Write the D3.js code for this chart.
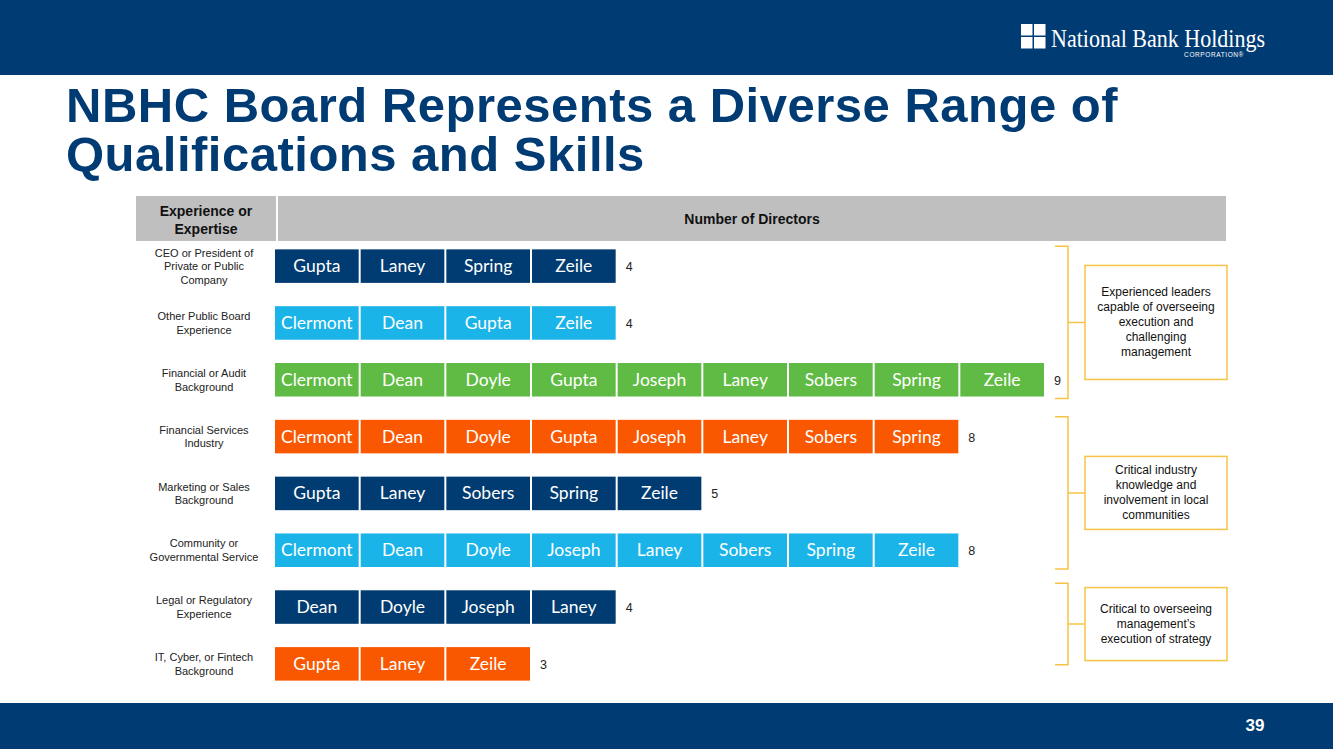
<!DOCTYPE html>
<html>
<head>
<meta charset="utf-8">
<script src="https://cdn.jsdelivr.net/npm/d3@7"></script>
<style>
  html, body { margin: 0; padding: 0; background: #fff; }
  svg { display: block; }
</style>
</head>
<body>
<svg id="chart"></svg>
<script>
// rows of the table, top to bottom
const categories = [
  ['CEO or President of', 'Private or Public', 'Company'],
  ['Other Public Board', 'Experience'],
  ['Financial or Audit', 'Background'],
  ['Financial Services', 'Industry'],
  ['Marketing or Sales', 'Background'],
  ['Community or', 'Governmental Service'],
  ['Legal or Regulatory', 'Experience'],
  ['IT, Cyber, or Fintech', 'Background']
];

const directors = [
  ['Gupta', 'Laney', 'Spring', 'Zeile'],
  ['Clermont', 'Dean', 'Gupta', 'Zeile'],
  ['Clermont', 'Dean', 'Doyle', 'Gupta', 'Joseph', 'Laney', 'Sobers', 'Spring', 'Zeile'],
  ['Clermont', 'Dean', 'Doyle', 'Gupta', 'Joseph', 'Laney', 'Sobers', 'Spring'],
  ['Gupta', 'Laney', 'Sobers', 'Spring', 'Zeile'],
  ['Clermont', 'Dean', 'Doyle', 'Joseph', 'Laney', 'Sobers', 'Spring', 'Zeile'],
  ['Dean', 'Doyle', 'Joseph', 'Laney'],
  ['Gupta', 'Laney', 'Zeile']
];

const counts = [4, 4, 9, 8, 5, 8, 4, 3];

// groups of rows (first index, last index) and their notes
const groups = [
  { from: 0, to: 2, note: ['Experienced leaders', 'capable of overseeing', 'execution and', 'challenging', 'management'] },
  { from: 3, to: 5, note: ['Critical industry', 'knowledge and', 'involvement in local', 'communities'] },
  { from: 6, to: 7, note: ['Critical to overseeing', 'management\u2019s', 'execution of strategy'] }
];

const W = 1333, H = 749;
const navy = '#003b73';
const barColors = ['#003b71', '#1ab4e9', '#5fbb43', '#fa5800', '#003b71', '#1ab4e9', '#003b71', '#fa5800'];
const gold = '#f6c445';

const svg = d3.select('#chart').attr('width', W).attr('height', H);

// top and bottom bands
svg.append('rect').attr('x', 0).attr('y', 0).attr('width', W).attr('height', 75).attr('fill', navy);
svg.append('rect').attr('x', 0).attr('y', 703).attr('width', W).attr('height', H - 703).attr('fill', navy);

// logo
const logo = svg.append('g').attr('transform', 'translate(1021,24)');
[[0, 0], [13, 0], [0, 13], [13, 13]].forEach(p => {
  logo.append('rect').attr('x', p[0]).attr('y', p[1]).attr('width', 11.5).attr('height', 11.5).attr('fill', '#fff');
});
svg.append('text').attr('x', 1051).attr('y', 47)
  .attr('font-family', 'Liberation Serif, serif').attr('font-size', 26)
  .attr('textLength', 214).attr('lengthAdjust', 'spacingAndGlyphs')
  .attr('fill', '#fff').text('National Bank Holdings');
svg.append('text').attr('x', 1244).attr('y', 57).attr('text-anchor', 'end')
  .attr('font-family', 'Liberation Sans, Arial, sans-serif').attr('font-size', 6.5)
  .attr('letter-spacing', 0.6).attr('fill', '#fff').text('CORPORATION\u00ae');

// page number
svg.append('text').attr('x', 1255).attr('y', 731).attr('text-anchor', 'middle')
  .attr('font-family', 'Liberation Sans, Arial, sans-serif').attr('font-weight', 'bold')
  .attr('font-size', 17).attr('fill', '#fff').text('39');

// title
const title = svg.append('text').attr('font-family', 'Liberation Sans, Arial, sans-serif')
  .attr('font-weight', 'bold').attr('font-size', 49).attr('letter-spacing', 0.5).attr('fill', navy);
title.append('tspan').attr('x', 66).attr('y', 122).text('NBHC Board Represents a Diverse Range of');
title.append('tspan').attr('x', 66).attr('y', 171).text('Qualifications and Skills');

// header row
const headY = 196, headH = 45;
svg.append('rect').attr('x', 136).attr('y', headY).attr('width', 140).attr('height', headH).attr('fill', '#bfbfbf');
svg.append('rect').attr('x', 278).attr('y', headY).attr('width', 948).attr('height', headH).attr('fill', '#bfbfbf');
const head1 = svg.append('text').attr('text-anchor', 'middle')
  .attr('font-family', 'Liberation Sans, Arial, sans-serif').attr('font-weight', 'bold')
  .attr('font-size', 14).attr('fill', '#111');
head1.append('tspan').attr('x', 206).attr('y', 216).text('Experience or');
head1.append('tspan').attr('x', 206).attr('y', 234).text('Expertise');
svg.append('text').attr('x', 752).attr('y', 224).attr('text-anchor', 'middle')
  .attr('font-family', 'Liberation Sans, Arial, sans-serif').attr('font-weight', 'bold')
  .attr('font-size', 14).attr('fill', '#111').text('Number of Directors');

// scales
const y = d3.scaleBand().domain(d3.range(categories.length)).range([238, 692]).paddingInner(0.41).paddingOuter(0.2);
const x = d3.scaleLinear().domain([0, 9]).range([275, 1046]);

// category labels
const lineH = 13.5;
categories.forEach((lines, i) => {
  const cy = y(i) + y.bandwidth() / 2;
  const t = svg.append('text').attr('text-anchor', 'middle')
    .attr('font-family', 'Liberation Sans, Arial, sans-serif').attr('font-size', 11).attr('fill', '#222');
  lines.forEach((s, j) => {
    t.append('tspan').attr('x', 204)
      .attr('y', cy + (j - (lines.length - 1) / 2) * lineH + 4).text(s);
  });
});

// bars
const rows = svg.append('g').selectAll('g').data(directors).join('g');
rows.each(function(names, i) {
  const g = d3.select(this);
  const cells = names.map((n, k) => ({ n: n, k: k }));
  g.selectAll('rect').data(cells).join('rect')
    .attr('x', d => x(d.k))
    .attr('y', y(i))
    .attr('width', x(1) - x(0) - 2)
    .attr('height', y.bandwidth())
    .attr('fill', barColors[i]);
  g.selectAll('text.name').data(cells).join('text')
    .attr('class', 'name')
    .attr('x', d => (x(d.k) + x(d.k + 1) - 2) / 2)
    .attr('y', y(i) + y.bandwidth() / 2 + 6)
    .attr('text-anchor', 'middle')
    .attr('font-family', 'Lato, sans-serif').attr('font-size', 17.5)
    .attr('fill', '#fff')
    .text(d => d.n);
  g.append('text')
    .attr('x', x(counts[i]) + 8)
    .attr('y', y(i) + y.bandwidth() / 2 + 5)
    .attr('font-family', 'Liberation Sans, Arial, sans-serif').attr('font-size', 12.5)
    .attr('fill', '#222')
    .text(counts[i]);
});

// brackets and notes
const brX = 1068, boxX = 1085, boxW = 142;
const boxHeights = [114, 73, 73];
const noteLine = 15;
groups.forEach((gr, gi) => {
  let top = y(gr.from) - 3;
  let bot = y(gr.to) + y.bandwidth() + 2;
  // the last bracket sits a little higher than its rows
  if (gi === groups.length - 1) {
    top = y(gr.from) - 7;
    bot = y(gr.to) + y.bandwidth() / 2 + 1;
  }
  const mid = (top + bot) / 2;
  svg.append('path')
    .attr('d', `M${brX - 13},${top}H${brX}V${bot}H${brX - 13}M${brX},${mid}H${boxX}`)
    .attr('fill', 'none').attr('stroke', gold).attr('stroke-width', 1.5);
  const boxH = boxHeights[gi];
  svg.append('rect').attr('x', boxX).attr('y', mid - boxH / 2)
    .attr('width', boxW).attr('height', boxH)
    .attr('fill', '#fff').attr('stroke', gold).attr('stroke-width', 1.5);
  const t = svg.append('text').attr('text-anchor', 'middle')
    .attr('font-family', 'Liberation Sans, Arial, sans-serif').attr('font-size', 12).attr('fill', '#111');
  gr.note.forEach((s, j) => {
    t.append('tspan').attr('x', boxX + boxW / 2)
      .attr('y', mid + (j - (gr.note.length - 1) / 2) * noteLine + 4).text(s);
  });
});
</script>
</body>
</html>
